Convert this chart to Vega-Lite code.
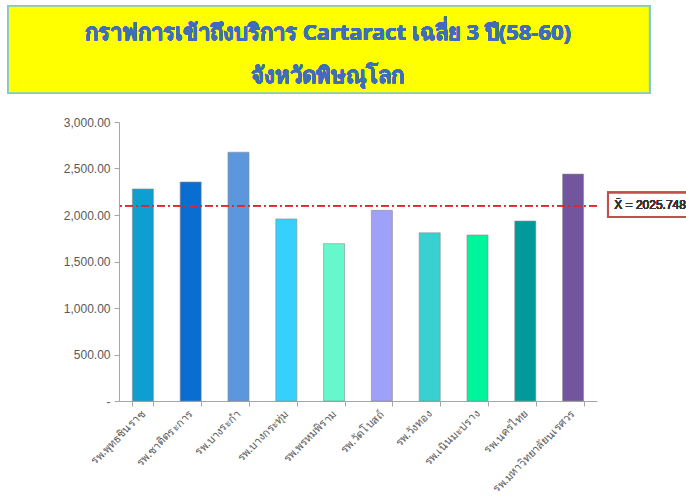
{
  "$schema": "https://vega.github.io/schema/vega-lite/v6.json",
  "width": 478,
  "height": 279,
  "autosize": {"type": "none"},
  "padding": {"left": 119, "top": 122, "right": 89, "bottom": 98},
  "background": "white",
  "config": {"view": {"stroke": null}},
  "data": {
    "values": [
      {"hospital": "รพ.พุทธชินราช", "value": 2280},
      {"hospital": "รพ.ชาติตระการ", "value": 2355},
      {"hospital": "รพ.บางระกำ", "value": 2675},
      {"hospital": "รพ.บางกระทุ่ม", "value": 1958},
      {"hospital": "รพ.พรหมพิราม", "value": 1692},
      {"hospital": "รพ.วัดโบสถ์", "value": 2050},
      {"hospital": "รพ.วังทอง", "value": 1808},
      {"hospital": "รพ.เนินมะปราง", "value": 1785},
      {"hospital": "รพ.นครไทย", "value": 1935},
      {"hospital": "รพ.มหาวิทยาลัยนเรศวร", "value": 2440}
    ]
  },
  "resolve": {"scale": {"x": "independent"}, "axis": {"x": "independent"}},
  "layer": [
    {
      "mark": {"type": "rect", "fill": "#FFFF00", "stroke": "#7FC8D8", "strokeWidth": 1.5},
      "encoding": {
        "x": {"datum": -0.232, "type": "quantitative", "scale": {"domain": [0, 1]}, "axis": null},
        "x2": {"datum": 1.11},
        "y": {
          "datum": 4247,
          "type": "quantitative",
          "scale": {"domain": [0, 3000], "nice": false},
          "axis": {
            "title": null,
            "grid": false,
            "values": [0, 500, 1000, 1500, 2000, 2500, 3000],
            "labelExpr": "datum.value == 0 ? '-\u00a0\u00a0\u00a0\u00a0\u00a0' : format(datum.value, ',.2f')",
            "labelFontSize": 12,
            "labelColor": "#595959",
            "labelFont": "Liberation Sans",
            "labelPadding": 4,
            "tickColor": "#A6A6A6",
            "tickSize": 5,
            "domainColor": "#A6A6A6"
          }
        },
        "y2": {"datum": 3312}
      }
    },
    {
      "mark": {"type": "text", "align": "center", "baseline": "middle", "fontSize": 22, "fontWeight": "bold", "font": "Noto Sans", "color": "#3F6DBE", "lineHeight": 43},
      "encoding": {
        "x": {"datum": 0.4372, "type": "quantitative", "scale": {"domain": [0, 1]}, "axis": null},
        "y": {"datum": 3957, "type": "quantitative"},
        "text": {"value": ["กราฟการเข้าถึงบริการ Cartaract เฉลี่ย 3 ปี(58-60)", "จังหวัดพิษณุโลก"]}
      }
    },
    {
      "mark": {"type": "bar", "stroke": "#8C8C8C", "strokeOpacity": 0.6, "strokeWidth": 1},
      "encoding": {
        "x": {
          "field": "hospital",
          "type": "nominal",
          "sort": null,
          "scale": {"paddingInner": 0.56, "paddingOuter": 0.28},
          "axis": {
            "title": null,
            "labelAngle": -45,
            "labelAlign": "right",
            "labelBaseline": "middle",
            "labelPadding": 6,
            "labelFontSize": 11,
            "labelColor": "#595959",
            "labelFont": "Noto Sans",
            "tickBand": "extent",
            "tickColor": "#A6A6A6",
            "tickSize": 5,
            "domainColor": "#A6A6A6",
            "labelOverlap": false
          }
        },
        "y": {"field": "value", "type": "quantitative"},
        "color": {
          "field": "hospital",
          "type": "nominal",
          "sort": null,
          "legend": null,
          "scale": {
            "domain": ["รพ.พุทธชินราช", "รพ.ชาติตระการ", "รพ.บางระกำ", "รพ.บางกระทุ่ม", "รพ.พรหมพิราม", "รพ.วัดโบสถ์", "รพ.วังทอง", "รพ.เนินมะปราง", "รพ.นครไทย", "รพ.มหาวิทยาลัยนเรศวร"],
            "range": ["#0E9FD0", "#0A6DD2", "#5C97DE", "#36D0FF", "#66F8CC", "#9FA0F8", "#38D0D0", "#00F59A", "#009A9A", "#73549E"]
          }
        }
      }
    },
    {
      "mark": {"type": "rule", "color": "#E3262B", "strokeWidth": 1, "strokeDash": [8, 3, 2, 3]},
      "encoding": {
        "y": {"datum": 2100, "type": "quantitative"}
      }
    },
    {
      "mark": {"type": "rect", "fill": "white", "stroke": "#C0504D", "strokeWidth": 2},
      "encoding": {
        "x": {"datum": 1.023, "type": "quantitative", "scale": {"domain": [0, 1]}, "axis": null},
        "x2": {"datum": 1.3},
        "y": {"datum": 2240, "type": "quantitative"},
        "y2": {"datum": 1978}
      }
    },
    {
      "mark": {"type": "text", "align": "left", "baseline": "middle", "fontSize": 12, "font": "Liberation Sans", "color": "#333333"},
      "encoding": {
        "x": {"datum": 1.036, "type": "quantitative", "scale": {"domain": [0, 1]}, "axis": null},
        "y": {"datum": 2106, "type": "quantitative"},
        "text": {"value": "X̄ = 2025.748"}
      }
    }
  ]
}
